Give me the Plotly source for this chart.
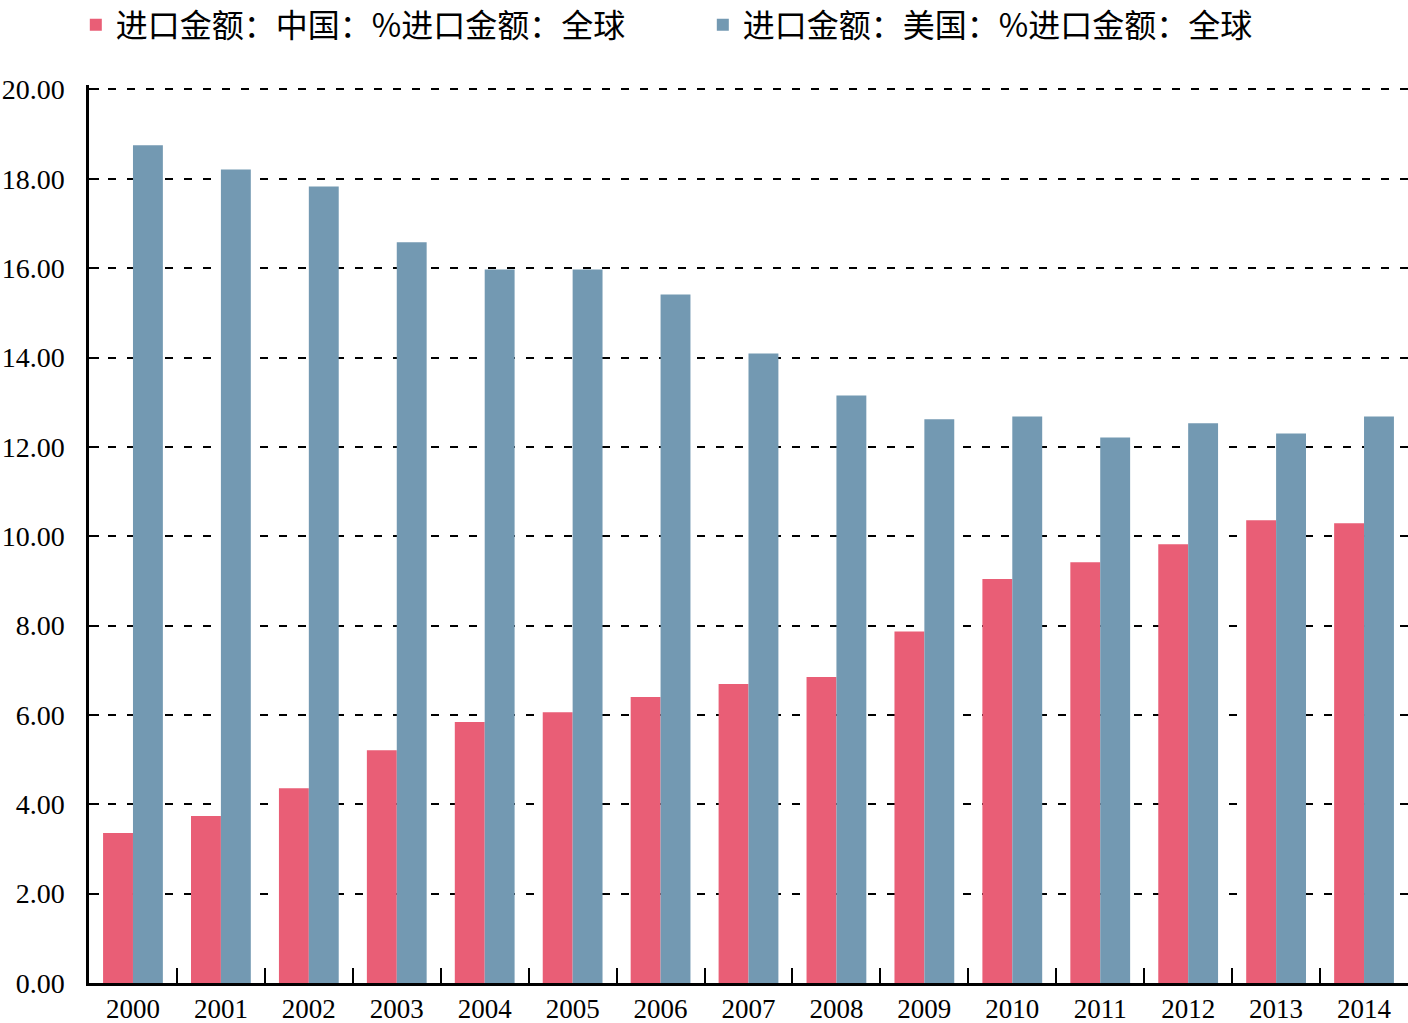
import plotly.graph_objects as go

years = ["2000", "2001", "2002", "2003", "2004", "2005", "2006", "2007",
         "2008", "2009", "2010", "2011", "2012", "2013", "2014"]
china = [3.36, 3.74, 4.36, 5.21, 5.84, 6.06, 6.40, 6.69, 6.85, 7.87,
         9.04, 9.42, 9.82, 10.36, 10.29]
usa = [18.75, 18.21, 17.83, 16.58, 15.97, 15.97, 15.41, 14.09, 13.15, 12.62,
       12.68, 12.21, 12.53, 12.30, 12.68]
name_china = "进口金额：中国：%进口金额：全球"
name_usa = "进口金额：美国：%进口金额：全球"
y_ticks = [0, 2, 4, 6, 8, 10, 12, 14, 16, 18, 20]

FONT = "Liberation Serif, Times New Roman, Noto Sans CJK SC, serif"

fig = go.Figure()
fig.add_trace(go.Bar(x=years, y=china, name=name_china, marker_color="#E95E76",
                     marker_line_width=0))
fig.add_trace(go.Bar(x=years, y=usa, name=name_usa, marker_color="#7399B2",
                     marker_line_width=0))

fig.update_layout(
    width=1408, height=1023,
    margin=dict(l=89, r=0, t=85, b=40, autoexpand=False),
    paper_bgcolor="white", plot_bgcolor="white",
    barmode="group", bargap=0.32, bargroupgap=0,
    font=dict(family=FONT, color="black", size=28),
    legend=dict(orientation="h", x=-0.01, xanchor="left",
                y=1.067, yanchor="middle",
                font=dict(size=32, family="Noto Sans CJK SC, Liberation Serif"),
                entrywidth=582, entrywidthmode="pixels", itemwidth=30,
                bgcolor="rgba(0,0,0,0)", borderwidth=0),
    xaxis=dict(
        type="category", showline=True, linecolor="black", linewidth=3,
        ticks="inside", tickson="boundaries", ticklen=15, tickwidth=2, tickcolor="black",
        showgrid=False, ticklabelstandoff=0, automargin=False,
        tickfont=dict(size=27, family=FONT),
    ),
    yaxis=dict(
        range=[0, 20.1], tickvals=y_ticks, ticktext=[f"{v:.2f}" for v in y_ticks],
        showline=True, linecolor="black", linewidth=2.5,
        ticks="inside", ticklen=10, tickwidth=2, tickcolor="black",
        showgrid=True, gridcolor="black", gridwidth=2, griddash="8px,11px",
        zeroline=False, ticklabelstandoff=16, automargin=False,
        tickfont=dict(size=28, family=FONT),
    ),
)

fig.write_html("out.html")
